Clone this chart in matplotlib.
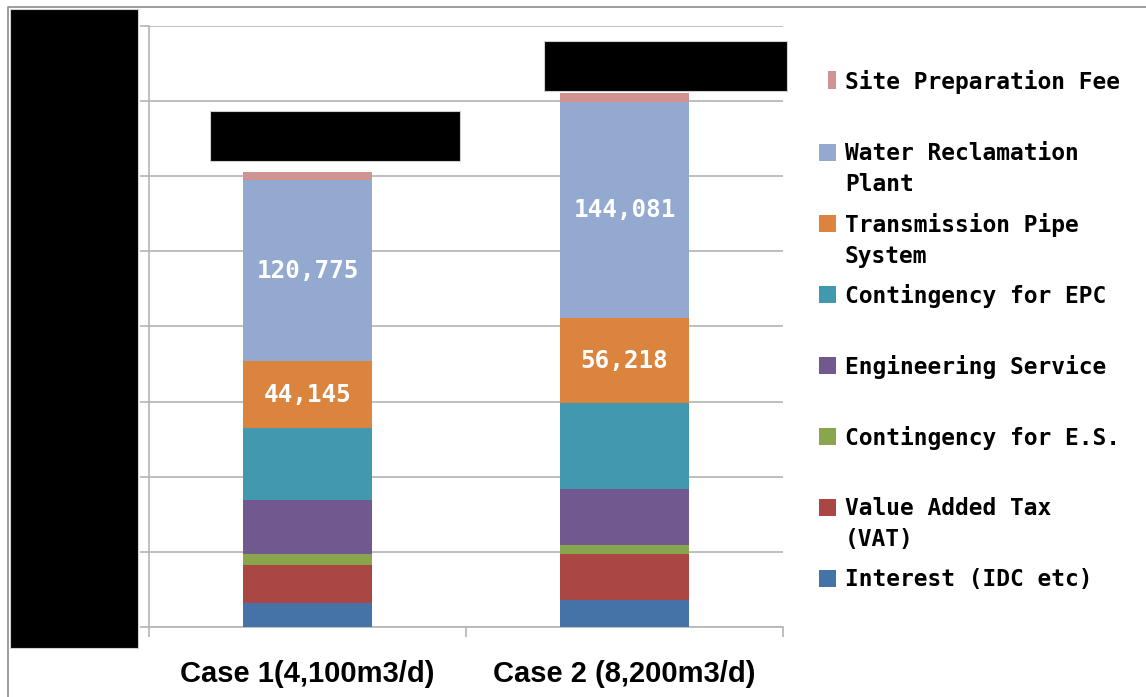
import matplotlib
matplotlib.use("Agg")
import matplotlib.pyplot as plt
from matplotlib.patches import Rectangle
from matplotlib.lines import Line2D

# Cost breakdown per case (stacked from bottom to top)
cases = ["Case 1(4,100m3/d)", "Case 2 (8,200m3/d)"]
components = [
    "Interest (IDC etc)",
    "Value Added Tax\n(VAT)",
    "Contingency for E.S.",
    "Engineering Service",
    "Contingency for EPC",
    "Transmission Pipe\nSystem",
    "Water Reclamation\nPlant",
    "Site Preparation Fee",
]
interest = [16000, 18000]
vat = [25300, 30600]
contingency_es = [7300, 6000]
engineering = [36000, 37300]
contingency_epc = [48000, 57300]
transmission = [44145, 56218]
water_reclamation = [120775, 144081]
site_preparation = [5000, 6000]
series = [interest, vat, contingency_es, engineering, contingency_epc,
          transmission, water_reclamation, site_preparation]
labelled = {"Transmission Pipe\nSystem", "Water Reclamation\nPlant"}
colors = ["#4572A7", "#AA4643", "#89A54E", "#71588F", "#4198AF",
          "#DB843D", "#93A9CF", "#D19392"]
y_ticks = list(range(0, 400001, 50000))

W, H = 1146, 697
fig = plt.figure(figsize=(W / 100, H / 100), dpi=100)
fig.patch.set_facecolor("white")

def fx(px):
    return px / W

def fy(py):
    return 1 - py / H

ax = fig.add_axes([fx(149), fy(627), fx(783) - fx(149), fy(26) - fy(627)])
grid_c = "#b4b4b4"
ax.set_xlim(-0.5, 1.5)
ax.set_ylim(0, 400000)
ax.set_yticks(y_ticks)
ax.set_yticklabels([])
ax.yaxis.grid(True, color=grid_c, linewidth=1.2)
ax.set_axisbelow(True)
for s in ["top", "right"]:
    ax.spines[s].set_visible(False)
for s in ["left", "bottom"]:
    ax.spines[s].set_color(grid_c)
    ax.spines[s].set_linewidth(1.2)
ax.tick_params(axis="y", length=6.5, width=1.2, color=grid_c, direction="out")
ax.set_xticks([-0.5, 0.5, 1.5])
ax.set_xticklabels([])
ax.tick_params(axis="x", length=7, width=1.2, color=grid_c, direction="out")

mono = ["DejaVu Sans Mono"]
x = [0, 1]
bottom = [0, 0]
for name, vals, col in zip(components, series, colors):
    ax.bar(x, vals, width=0.404, bottom=bottom, color=col, linewidth=0, zorder=3)
    if name in labelled:
        for xi, v, b in zip(x, vals, bottom):
            ax.text(xi, b + v / 2, f"{v:,}", ha="center", va="center",
                    color="white", fontsize=17.5, fontweight="bold",
                    family=mono, zorder=4)
    bottom = [b + v for b, v in zip(bottom, vals)]

# Category labels
for xi, lab in zip(x, cases):
    ax.text(xi, -0.078, lab, transform=ax.get_xaxis_transform(),
            ha="center", va="center", fontsize=21, fontweight="bold",
            family=["Liberation Sans"])

# Redaction boxes
fig.patches.append(Rectangle((fx(10), fy(648)), fx(138) - fx(10), fy(9) - fy(648),
                             transform=fig.transFigure, facecolor="black",
                             edgecolor="#d0d0d0", linewidth=0.8, zorder=5))
fig.patches.append(Rectangle((fx(210), fy(161)), fx(460) - fx(210), fy(111) - fy(161),
                             transform=fig.transFigure, facecolor="black",
                             edgecolor="#d0d0d0", linewidth=0.8, zorder=5))
fig.patches.append(Rectangle((fx(544), fy(91)), fx(787) - fx(544), fy(41) - fy(91),
                             transform=fig.transFigure, facecolor="black",
                             edgecolor="#d0d0d0", linewidth=0.8, zorder=5))

# Outer frame (left and top edges)
fig.lines.append(Line2D([fx(8), fx(8), fx(1146)], [fy(697), fy(7), fy(7)],
                        transform=fig.transFigure, color="#8c8c8c", linewidth=1.2))

# Legend (top to bottom)
legend_rows = [
    ("Site Preparation Fee", "#D19392", 80, True),
    ("Water Reclamation\nPlant", "#93A9CF", 152, False),
    ("Transmission Pipe\nSystem", "#DB843D", 223, False),
    ("Contingency for EPC", "#4198AF", 294, False),
    ("Engineering Service", "#71588F", 365, False),
    ("Contingency for E.S.", "#89A54E", 436, False),
    ("Value Added Tax\n(VAT)", "#AA4643", 507, False),
    ("Interest (IDC etc)", "#4572A7", 578, False),
]
for text, col, cy, narrow in legend_rows:
    x0 = 828 if narrow else 819
    fig.patches.append(Rectangle((fx(x0), fy(cy + 8.5)), fx(836) - fx(x0), 17 / H,
                                 transform=fig.transFigure, facecolor=col,
                                 edgecolor="none"))
    fig.text(fx(845), fy(cy - 10), text, ha="left", va="top",
             fontsize=16.5, fontweight="bold", family=mono,
             linespacing=1.47, color="black")

fig.savefig("out.png", dpi=100, facecolor="white")
